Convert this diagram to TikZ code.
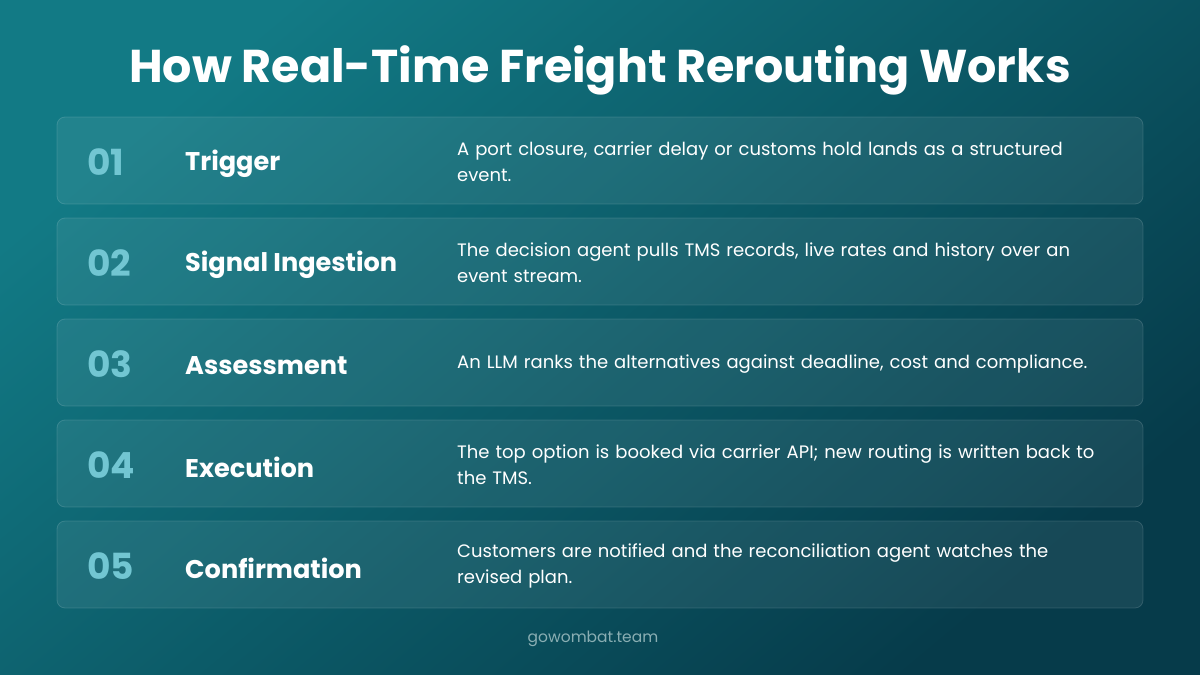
\documentclass[tikz,border=0pt]{standalone}
\usepackage{fontspec}
\setmainfont{Poppins}
\definecolor{bgA}{HTML}{127A85}
\definecolor{bgB}{HTML}{063B4A}
\definecolor{numc}{HTML}{72C6D2}
\definecolor{footc}{HTML}{8AAEB3}
\tikzset{
  card/.style={draw=white, draw opacity=0.14, fill=white, fill opacity=0.07, rounded corners=8pt, line width=0.8pt},
  numtxt/.style={anchor=west, text=numc, font=\fontsize{36}{42}\selectfont\bfseries, inner sep=0pt},
  ttltxt/.style={anchor=west, text=white, font=\fontsize{25.6}{30}\selectfont\bfseries, inner sep=0pt},
  desctxt/.style={anchor=west, text=white, font=\fontsize{18}{26}\selectfont, inner sep=0pt, align=left, text width=680pt},
}
\begin{document}
\begin{tikzpicture}[x=1pt,y=-1pt]
\useasboundingbox (0,0) rectangle (1200,675);
\shade[top color=bgA, bottom color=bgB, shading angle=40] (0,0) rectangle (1200,675);
\node[text=white, font=\fontsize{46}{54}\selectfont\bfseries, inner sep=0pt] (title) at (600,70) {How Real-Time Freight Rerouting Works};
\foreach \i/\n/\t/\d in {
 0/01/Trigger/{A port closure, carrier delay or customs hold lands as a structured\\event.},
 1/02/Signal Ingestion/{The decision agent pulls TMS records, live rates and history over an\\event stream.},
 2/03/Assessment/{An LLM ranks the alternatives against deadline, cost and compliance.},
 3/04/Execution/{The top option is booked via carrier API; new routing is written back to\\the TMS.},
 4/05/Confirmation/{Customers are notified and the reconciliation agent watches the\\revised plan.}}{
  \pgfmathsetmacro{\yt}{117+101*\i}
  \pgfmathsetmacro{\yc}{\yt+44}
  \draw[card] (57,\yt) rectangle (1143,\yt+87) node[pos=0.5, coordinate] (card\n) {};
  \node[numtxt] (num\n) at (87,\yc+1) {\n};
  \node[ttltxt] (ttl\n) at (185,\yc+3) {\t};
  \node[desctxt] (desc\n) at (457,\yc+1) {\d};
}
\node[text=footc, font=\fontsize{15.5}{18}\selectfont, inner sep=0pt] (foot) at (593,639) {gowombat.team};
\end{tikzpicture}
\end{document}
